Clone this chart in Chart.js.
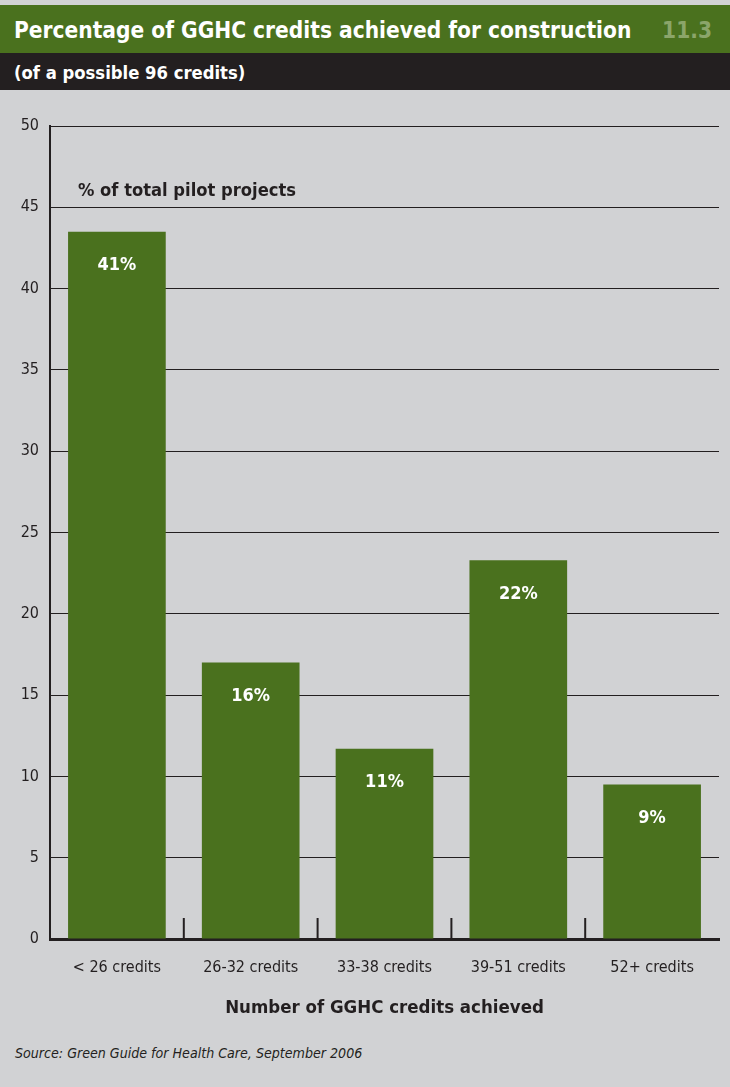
<!DOCTYPE html>
<html>
<head>
<meta charset="utf-8">
<script src="https://cdn.jsdelivr.net/npm/chart.js@4"></script>
<style>
  body { margin: 0; background: #fff; }
  .figure {
    position: relative;
    width: 730px;
    height: 1087px;
    background: #d1d2d4;
    font-family: "Liberation Sans Narrow", "DejaVu Sans Condensed", "Liberation Sans", sans-serif;
    overflow: hidden;
  }
  .figure__title {
    position: absolute; left: 0; top: 5px; width: 730px; height: 48px;
    background: #4a711e; color: #fff;
    font-weight: bold; font-size: 22.5px; line-height: 50px;
    box-sizing: border-box; padding-left: 14px;
  }
  .figure__num {
    position: absolute; right: 18px; top: 0; color: #8ba56a;
  }
  .figure__subtitle {
    position: absolute; left: 0; top: 53px; width: 730px; height: 37px;
    background: #231f20; color: #fff;
    font-weight: bold; font-size: 18.3px; line-height: 40px;
    box-sizing: border-box; padding-left: 14px;
  }
  .figure__unit {
    position: absolute; left: 78px; top: 179px;
    font-weight: bold; font-size: 18.2px; color: #231f20;
  }
  .figure__source {
    position: absolute; left: 15px; top: 1045px;
    font-style: italic; font-size: 14.1px; color: #231f20;
  }
  #chartBox { position: absolute; left: 0; top: 90px; width: 730px; height: 950px; }
</style>
</head>
<body>
<div class="figure">
  <div class="figure__title">Percentage of GGHC credits achieved for construction<span class="figure__num">11.3</span></div>
  <div class="figure__subtitle">(of a possible 96 credits)</div>
  <div id="chartBox"><canvas id="creditsChart"></canvas></div>
  <div class="figure__unit">% of total pilot projects</div>
  <div class="figure__source">Source: Green Guide for Health Care, September 2006</div>
</div>

<script>
const categories = ["< 26 credits", "26-32 credits", "33-38 credits", "39-51 credits", "52+ credits"];
// bar heights as drawn against the axis
const barValues = [43.5, 17, 11.7, 23.3, 9.5];
// printed labels on the bars
const barLabels = ["41%", "16%", "11%", "22%", "9%"];
const yTicks = [0, 5, 10, 15, 20, 25, 30, 35, 40, 45, 50];

const FONT = "'Liberation Sans Narrow', 'DejaVu Sans Condensed', 'Liberation Sans', sans-serif";

// white % labels inside bars + short tick marks between categories
const decorPlugin = {
  id: "decor",
  afterDatasetsDraw(chart) {
    const ctx = chart.ctx;
    const meta = chart.getDatasetMeta(0);
    ctx.save();
    ctx.fillStyle = "#ffffff";
    ctx.font = "bold 18px " + FONT;
    ctx.textAlign = "center";
    ctx.textBaseline = "middle";
    meta.data.forEach((bar, i) => {
      ctx.fillText(barLabels[i], bar.x, bar.y + 34);
    });

    const x = chart.scales.x;
    const y0 = chart.scales.y.getPixelForValue(0);
    ctx.strokeStyle = "#231f20";
    ctx.lineWidth = 2;
    for (let i = 0; i < categories.length - 1; i++) {
      const px = (x.getPixelForValue(i) + x.getPixelForValue(i + 1)) / 2;
      ctx.beginPath();
      ctx.moveTo(px, y0);
      ctx.lineTo(px, y0 - 21);
      ctx.stroke();
    }
    ctx.restore();
  },
};

new Chart(document.getElementById("creditsChart"), {
  type: "bar",
  data: {
    labels: categories,
    datasets: [
      {
        data: barValues,
        backgroundColor: "#4a711e",
        borderWidth: 0,
        categoryPercentage: 1,
        barPercentage: 0.73,
      },
    ],
  },
  options: {
    responsive: true,
    maintainAspectRatio: false,
    animation: false,
    layout: { padding: { left: 0, right: 11, top: 36, bottom: 17 } },
    plugins: {
      legend: { display: false },
      tooltip: { enabled: false },
    },
    scales: {
      y: {
        min: 0,
        max: 50,
        afterFit: (scale) => { scale.width = 50; },
        afterBuildTicks: (scale) => { scale.ticks = yTicks.map((v) => ({ value: v })); },
        ticks: {
          color: "#231f20",
          font: { family: FONT, size: 16 },
          padding: 11,
        },
        grid: { color: "#231f20", lineWidth: 1, drawTicks: false },
        border: { color: "#231f20", width: 2 },
      },
      x: {
        afterFit: (scale) => { scale.height = 84; },
        ticks: {
          color: "#231f20",
          font: { family: FONT, size: 16 },
          padding: 11,
          maxRotation: 0,
        },
        grid: { display: false },
        border: { color: "#231f20", width: 3 },
        title: {
          display: true,
          text: "Number of GGHC credits achieved",
          color: "#231f20",
          font: { family: FONT, size: 18.5, weight: "bold" },
          padding: { top: 8 },
        },
      },
    },
  },
  plugins: [decorPlugin],
});
</script>
</body>
</html>
